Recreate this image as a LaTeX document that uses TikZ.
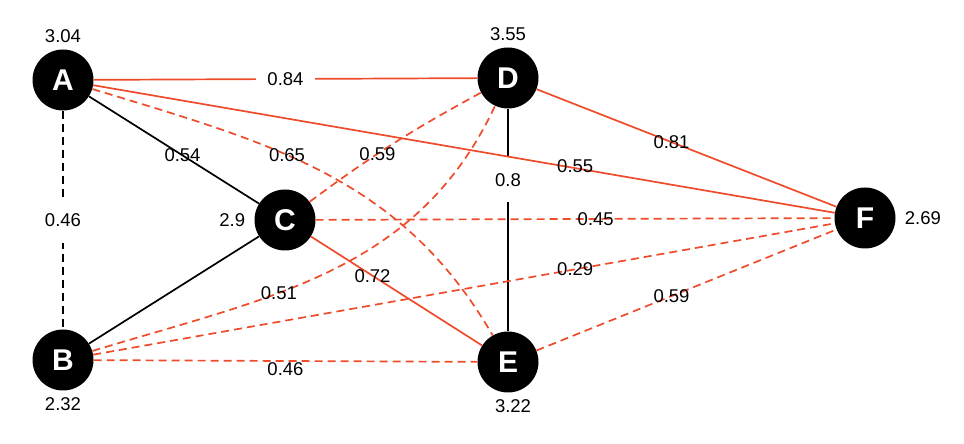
\documentclass[tikz,border=0pt]{standalone}
\usepackage{fontspec}
\setmainfont{Liberation Sans}
\usetikzlibrary{positioning}
\definecolor{hot}{HTML}{EE4B2B}

\begin{document}
\begin{tikzpicture}[x=1pt,y=1pt,
  vertex/.style={circle,fill=black,minimum size=61pt,inner sep=0pt,
    text=white,font=\fontsize{30}{32}\selectfont\bfseries},
  wt/.style={font=\fontsize{18.5}{20}\selectfont,inner sep=1pt},
  link/.style={line width=1.7pt},
  hotlink/.style={link,draw=hot},
  dashlink/.style={dash pattern=on 8pt off 5pt},
  gap/.style={fill=white,inner xsep=11pt,inner ysep=16pt}]
  \useasboundingbox (0,0) rectangle (964,444);

  % vertices with their weights
  \node[vertex,label={[wt,label distance=5pt]above:3.04}] (A) at (63,364) {A};
  \node[vertex,label={[wt,label distance=6pt]below:2.32}] (B) at (63,84)  {B};
  \node[vertex,label={[wt,label distance=8pt]left:2.9}]   (C) at (285,224) {C};
  \node[vertex,label={[wt,label distance=5pt]above:3.55}] (D) at (508,366) {D};
  \node[vertex,label={[wt,label distance=6pt,xshift=5pt]below:3.22}] (E) at (508,82) {E};
  \node[vertex,label={[wt,label distance=8pt]right:2.69}] (F) at (865,226) {F};

  % edges with a cleared label first
  \draw[hotlink] (A) -- node[wt,gap]{0.84} (D);
  \draw[link,dashlink] (A) -- node[wt,gap]{0.46} (B);
  \draw[link] (D) -- node[wt,gap,pos=0.32]{0.8} (E);

  \draw[link] (A) -- node[wt,pos=0.55]{0.54} (C);
  \draw[link] (B) -- (C);
  \draw[hotlink] (A) -- node[wt,pos=0.65,yshift=2pt]{0.55} (F);
  \draw[hotlink] (D) -- node[wt,pos=0.45]{0.81} (F);
  \draw[hotlink] (C) -- node[wt,pos=0.36]{0.72} (E);
  \draw[hotlink,dashlink] (C) -- node[wt,pos=0.54]{0.45} (F);
  \draw[hotlink,dashlink] (B) -- node[wt,pos=0.65]{0.29} (F);
  \draw[hotlink,dashlink] (E) -- node[wt,pos=0.45]{0.59} (F);
  \draw[hotlink,dashlink] (B) -- node[wt,below=0pt]{0.46} (E);
  \draw[hotlink,dashlink] (A) to[out=-17,in=120] node[wt,pos=0.41]{0.65} (E);
  \draw[hotlink,dashlink] (C) to[bend left=4] node[wt,pos=0.4]{0.59} (D);
  \draw[hotlink,dashlink] (B) to[out=17,in=-115] node[wt,pos=0.38]{0.51} (D);
\end{tikzpicture}
\end{document}
